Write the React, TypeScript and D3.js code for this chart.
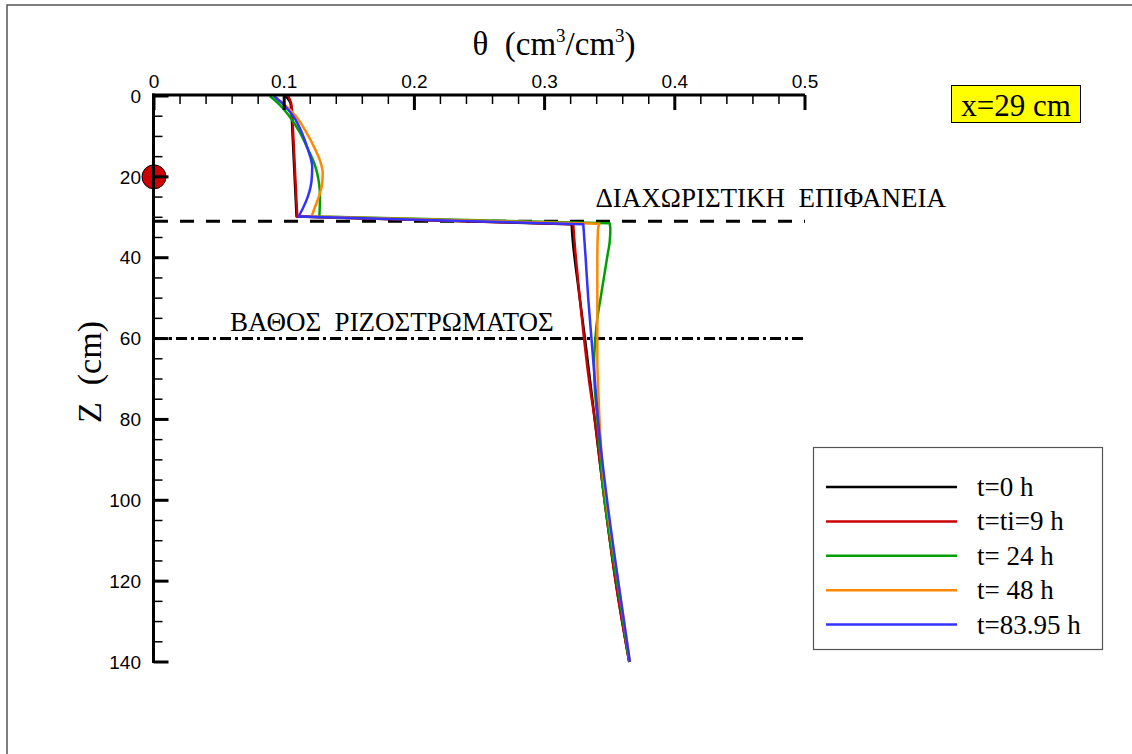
import React from "react";
import * as d3 from "d3";

type P = [number, number]; // [z (cm), theta]

const seriesLabels = ["t=0 h", "t=ti=9 h", "t= 24 h", "t= 48 h", "t=83.95 h"];
const seriesColors = ["#000000", "#cc0000", "#00a000", "#ff8800", "#3333ff"];

const xTickLabels = ["0", "0.1", "0.2", "0.3", "0.4", "0.5"];
const xTickValues = [0, 0.1, 0.2, 0.3, 0.4, 0.5];
const yTickValues = [0, 20, 40, 60, 80, 100, 120, 140];

const interfaceDepth = 31;
const rootDepth = 60;
const markerDepth = 20;

// upper layer (above interface)
const t0Upper: P[] = [[0, 0.101], [2, 0.105], [10, 0.1065], [20, 0.108], [29.8, 0.1095]];
const t9Upper: P[] = [[0, 0.103], [2, 0.1055], [10, 0.107], [20, 0.1085], [29.8, 0.110]];
const t24Upper: P[] = [[0, 0.089], [2, 0.096], [5, 0.104], [9, 0.112], [13, 0.118], [17, 0.1235], [21, 0.1265], [25, 0.1275], [29.8, 0.127]];
const t48Upper: P[] = [[0, 0.092], [2, 0.1], [5, 0.109], [9, 0.117], [13, 0.1235], [17, 0.1285], [19, 0.1296], [22, 0.129], [25, 0.1265], [28, 0.123], [29.8, 0.121]];
const t84Upper: P[] = [[0, 0.092], [2, 0.099], [5, 0.107], [9, 0.1135], [13, 0.118], [17.5, 0.1215], [21, 0.121], [25, 0.118], [28, 0.114], [29.8, 0.111]];

// lower layer (below interface)
const t0Lower: P[] = [[31.7, 0.3208], [34, 0.3212], [37, 0.322], [45, 0.325], [60, 0.331], [80, 0.3385], [96, 0.3445], [122, 0.3555], [140, 0.365]];
const t9Lower: P[] = [[31.7, 0.322], [35, 0.3227], [40, 0.324], [50, 0.327], [60, 0.3303], [70, 0.334], [80, 0.3385], [96, 0.3445], [122, 0.3555], [140, 0.365]];
const t24Lower: P[] = [[31.5, 0.35], [33, 0.3505], [36, 0.35], [40, 0.348], [45, 0.3455], [50, 0.343], [55, 0.3405], [60, 0.339], [66, 0.338], [72, 0.3385], [80, 0.3405], [90, 0.343], [96, 0.3445], [110, 0.3505], [125, 0.358], [140, 0.365]];
const t48Lower: P[] = [[31.6, 0.342], [33, 0.341], [40, 0.3405], [50, 0.3405], [65, 0.3405], [75, 0.3415], [85, 0.343], [95, 0.3455], [105, 0.3495], [120, 0.3565], [140, 0.3655]];
const t84Lower: P[] = [[31.7, 0.3297], [40, 0.3315], [50, 0.3335], [60, 0.336], [70, 0.3385], [85, 0.3425], [100, 0.348], [120, 0.3565], [140, 0.3655]];

const uppers = [t0Upper, t9Upper, t24Upper, t48Upper, t84Upper];
const lowers = [t0Lower, t9Lower, t24Lower, t48Lower, t84Lower];

const x = d3.scaleLinear().domain([0, 0.5]).range([154, 805]);
const y = d3.scaleLinear().domain([0, 140]).range([96, 662]);

const lineGen = d3
  .line<P>()
  .x((d) => x(d[1]))
  .y((d) => y(d[0]))
  .curve(d3.curveMonotoneY);

function seriesPath(up: P[], low: P[]): string {
  const a = lineGen(up) || "";
  const b = (lineGen(low) || "").replace(/^M/, "L");
  return a + b;
}

const serif = "'Liberation Serif', 'Times New Roman', serif";
const sans = "'Liberation Sans', Arial, sans-serif";

export default function App() {
  const xMinor = d3.range(0, 0.5001, 0.02);
  const yMinor = d3.range(0, 140.001, 5);
  const axisY = 95;
  const axisX = 153.5;
  return (
    <svg
      width={1132}
      height={754}
      style={{ position: "absolute", left: 0, top: 0, background: "#fff" }}
    >
      <rect x={0} y={0} width={1132} height={754} fill="#fff" />
      <path d="M7,754 L7,5 L1132,5" fill="none" stroke="#555" strokeWidth={1.5} />

      {/* title */}
      <text x={554} y={55} textAnchor="middle" fontFamily={serif} fontSize={33} style={{ whiteSpace: "pre" }}>
        {"θ  (cm"}
        <tspan fontSize={19} dy={-13}>3</tspan>
        <tspan dy={13}>/cm</tspan>
        <tspan fontSize={19} dy={-13}>3</tspan>
        <tspan dy={13}>)</tspan>
      </text>
      <text
        transform="translate(101,372) rotate(-90)"
        textAnchor="middle"
        fontFamily={serif}
        fontSize={34}
        style={{ whiteSpace: "pre" }}
      >
        {"Z  (cm)"}
      </text>

      {/* reference lines */}
      <line x1={x(0)} x2={x(0.5)} y1={y(interfaceDepth)} y2={y(interfaceDepth)} stroke="#000" strokeWidth={3} strokeDasharray="14 12" />
      <line x1={x(0)} x2={x(0.5)} y1={y(rootDepth)} y2={y(rootDepth)} stroke="#000" strokeWidth={3} strokeDasharray="11 4 3 4" />
      <text x={946} y={207} textAnchor="end" fontFamily={serif} fontSize={27} style={{ whiteSpace: "pre" }}>
        {"ΔΙΑΧΩΡΙΣΤΙΚΗ  ΕΠΙΦΑΝΕΙΑ"}
      </text>
      <text x={230} y={331} fontFamily={serif} fontSize={27} style={{ whiteSpace: "pre" }}>
        {"ΒΑΘΟΣ  ΡΙΖΟΣΤΡΩΜΑΤΟΣ"}
      </text>

      {/* curves */}
      {uppers.map((up, i) => (
        <path key={i} d={seriesPath(up, lowers[i])} fill="none" stroke={seriesColors[i]} strokeWidth={2.5} strokeLinejoin="round" />
      ))}

      {/* marker */}
      <circle cx={x(0)} cy={y(markerDepth)} r={12} fill="#d00000" stroke="#000" strokeWidth={1} />

      {/* top axis */}
      <line x1={axisX - 1.5} x2={x(0.5)} y1={axisY} y2={axisY} stroke="#000" strokeWidth={3} />
      {xMinor.map((v, i) => (
        <line key={"xm" + i} x1={x(v)} x2={x(v)} y1={axisY} y2={axisY + 9} stroke="#000" strokeWidth={1.5} />
      ))}
      {xTickValues.map((v, i) => (
        <g key={"xt" + i}>
          <line x1={x(v)} x2={x(v)} y1={axisY} y2={axisY + 15} stroke="#000" strokeWidth={3} />
          <text x={x(v)} y={88} textAnchor="middle" fontFamily={sans} fontSize={19}>
            {xTickLabels[i]}
          </text>
        </g>
      ))}

      {/* left axis */}
      <line x1={axisX} x2={axisX} y1={axisY - 1.5} y2={y(140) + 1} stroke="#000" strokeWidth={3} />
      {yMinor.map((v, i) => (
        <line key={"ym" + i} x1={axisX} x2={axisX + 9} y1={y(v)} y2={y(v)} stroke="#000" strokeWidth={1.5} />
      ))}
      {yTickValues.map((v, i) => (
        <g key={"yt" + i}>
          <line x1={axisX} x2={axisX + 15} y1={y(v)} y2={y(v)} stroke="#000" strokeWidth={3} />
          <text x={141} y={y(v)} dy="0.35em" textAnchor="end" fontFamily={sans} fontSize={19}>
            {String(v)}
          </text>
        </g>
      ))}

      {/* x=29 cm box */}
      <rect x={951.5} y={85.5} width={129} height={37} fill="#ffff00" stroke="#000" strokeWidth={1} />
      <text x={1016} y={116} textAnchor="middle" fontFamily={serif} fontSize={31}>
        x=29 cm
      </text>

      {/* legend */}
      <rect x={813.5} y={447.5} width={289} height={202} fill="#fff" stroke="#555" strokeWidth={1.2} />
      {seriesLabels.map((lab, i) => {
        const ly = 487 + i * 34.4;
        return (
          <g key={"lg" + i}>
            <line x1={826} x2={957} y1={ly} y2={ly} stroke={seriesColors[i]} strokeWidth={2.5} />
            <text x={977} y={ly + 9} fontFamily={serif} fontSize={27} style={{ whiteSpace: "pre" }}>
              {lab}
            </text>
          </g>
        );
      })}
    </svg>
  );
}
